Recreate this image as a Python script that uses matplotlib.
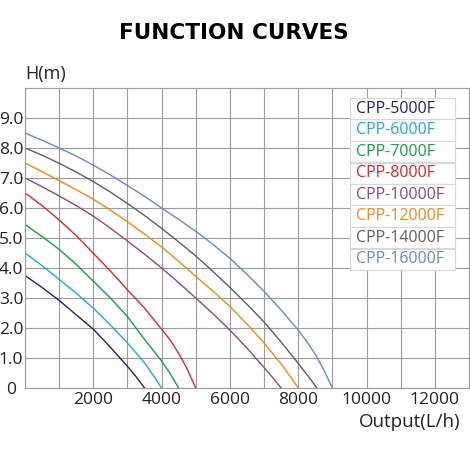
import numpy as np
import matplotlib.pyplot as plt
from matplotlib.patches import Rectangle

# pump models (legend order) and their colours
models = ['CPP-5000F', 'CPP-6000F', 'CPP-7000F', 'CPP-8000F',
          'CPP-10000F', 'CPP-12000F', 'CPP-14000F', 'CPP-16000F']
colors = ['#262072', '#27a3da', '#1c9a4a', '#d22b2c',
          '#8a4a80', '#e68c22', '#5e5e5e', '#6d89c0']

# flow (L/h) and head (m)
q_5000 = [0, 500, 1000, 1500, 2000, 2500, 3000, 3250, 3500]
h_5000 = [3.75, 3.35, 2.92, 2.44, 1.96, 1.36, 0.72, 0.38, 0]

q_6000 = [0, 500, 1000, 1500, 2000, 2500, 3000, 3500, 3750, 4000]
h_6000 = [4.5, 4.08, 3.62, 3.16, 2.66, 2.1, 1.5, 0.84, 0.43, 0]

q_7000 = [0, 500, 1000, 1500, 2000, 2500, 3000, 3500, 4000, 4250, 4500]
h_7000 = [5.45, 5.05, 4.62, 4.12, 3.56, 3.0, 2.38, 1.62, 0.9, 0.48, 0]

q_8000 = [0, 500, 1000, 1500, 2000, 2500, 3000, 3500, 4000, 4250, 4500, 4750, 5000]
h_8000 = [6.5, 6.08, 5.6, 5.08, 4.49, 3.9, 3.27, 2.66, 1.96, 1.6, 1.15, 0.63, 0]

q_10000 = [0, 500, 1000, 1500, 2000, 2500, 3000, 3500, 4000, 4500, 5000,
           5500, 6000, 6500, 7000, 7250, 7500]
h_10000 = [7.0, 6.71, 6.4, 6.08, 5.73, 5.33, 4.9, 4.46, 4.0, 3.51, 3.0,
           2.48, 1.93, 1.33, 0.68, 0.35, 0]

q_12000 = [0, 500, 1000, 1500, 2000, 2500, 3000, 3500, 4000, 4500, 5000,
           5500, 6000, 6500, 7000, 7500, 7750, 8000]
h_12000 = [7.5, 7.21, 6.91, 6.61, 6.29, 5.93, 5.54, 5.13, 4.7, 4.22, 3.72,
           3.23, 2.72, 2.13, 1.5, 0.8, 0.41, 0]

q_14000 = [0, 500, 1000, 1500, 2000, 2500, 3000, 3500, 4000, 4500, 5000,
           5500, 6000, 6500, 7000, 7500, 8000, 8300, 8550]
h_14000 = [8.0, 7.76, 7.49, 7.2, 6.88, 6.53, 6.15, 5.75, 5.32, 4.87, 4.4,
           3.89, 3.35, 2.79, 2.2, 1.53, 0.82, 0.38, 0]

q_16000 = [0, 500, 1000, 1500, 2000, 2500, 3000, 3500, 4000, 4500, 5000,
           5500, 6000, 6500, 7000, 7500, 8000, 8250, 8500, 8750, 9000]
h_16000 = [8.5, 8.26, 8.0, 7.73, 7.43, 7.1, 6.75, 6.39, 6.0, 5.62, 5.22,
           4.79, 4.32, 3.79, 3.22, 2.6, 1.93, 1.55, 1.12, 0.6, 0]

flows = [q_5000, q_6000, q_7000, q_8000, q_10000, q_12000, q_14000, q_16000]
heads = [h_5000, h_6000, h_7000, h_8000, h_10000, h_12000, h_14000, h_16000]

x_ticks = list(range(0, 13001, 1000))
x_labels = ['' if (t == 0 or t % 2000) else str(t) for t in x_ticks]
y_ticks = list(range(0, 10))
y_labels = ['0'] + ['%.1f' % t for t in y_ticks[1:]]

font = 'Open Sans'
gridc = '#9c9c9c'

fig = plt.figure(figsize=(4.7, 4.7), dpi=100)
ax = fig.add_axes([25/470, 82/470, 444/470, 300/470])

for q, h, c in zip(flows, heads, colors):
    ax.plot(q, h, color=c, lw=1.0, zorder=2)

ax.set_xlim(0, 13000)
ax.set_ylim(0, 10)
ax.set_xticks(x_ticks)
ax.set_xticklabels(x_labels, fontsize=12.5, family=font, color='#222222')
ax.set_yticks(y_ticks)
ax.set_yticklabels(y_labels, fontsize=12.5, family=font, color='#222222')
for lab in ax.get_yticklabels():
    lab.set_horizontalalignment('center')
ax.tick_params(axis='both', length=0)
ax.tick_params(axis='y', pad=10)
ax.tick_params(axis='x', pad=3)
ax.grid(True, color=gridc, lw=0.8)
for s in ax.spines.values():
    s.set_color(gridc)
    s.set_linewidth(0.8)

# legend drawn as stacked cells
x0, w = 325/444, 105/444
top, rh = (388-98)/300, 21.5/300
for i, (m, c) in enumerate(zip(models, colors)):
    y = top - (i + 1) * rh
    ax.add_patch(Rectangle((x0, y), w, rh, transform=ax.transAxes,
                           facecolor='white', edgecolor='#d8d8d8', lw=0.8, zorder=3))
    ax.text(x0 + 6/444, y + rh/2, m, transform=ax.transAxes, color=c,
            fontsize=11.5, family=font, va='center', ha='left', zorder=4)

fig.text(234/470, 1 - 33/470, 'FUNCTION CURVES', ha='center', va='center',
         fontsize=15.5, fontweight='bold', family='DejaVu Sans')
fig.text(25/470, 1 - 74/470, 'H(m)', ha='left', va='center',
         fontsize=13, family=font, color='#222222')
fig.text(460/470, 1 - 422/470, 'Output(L/h)', ha='right', va='center',
         fontsize=13.5, family=font, color='#222222')

fig.savefig('out.png', dpi=100)
